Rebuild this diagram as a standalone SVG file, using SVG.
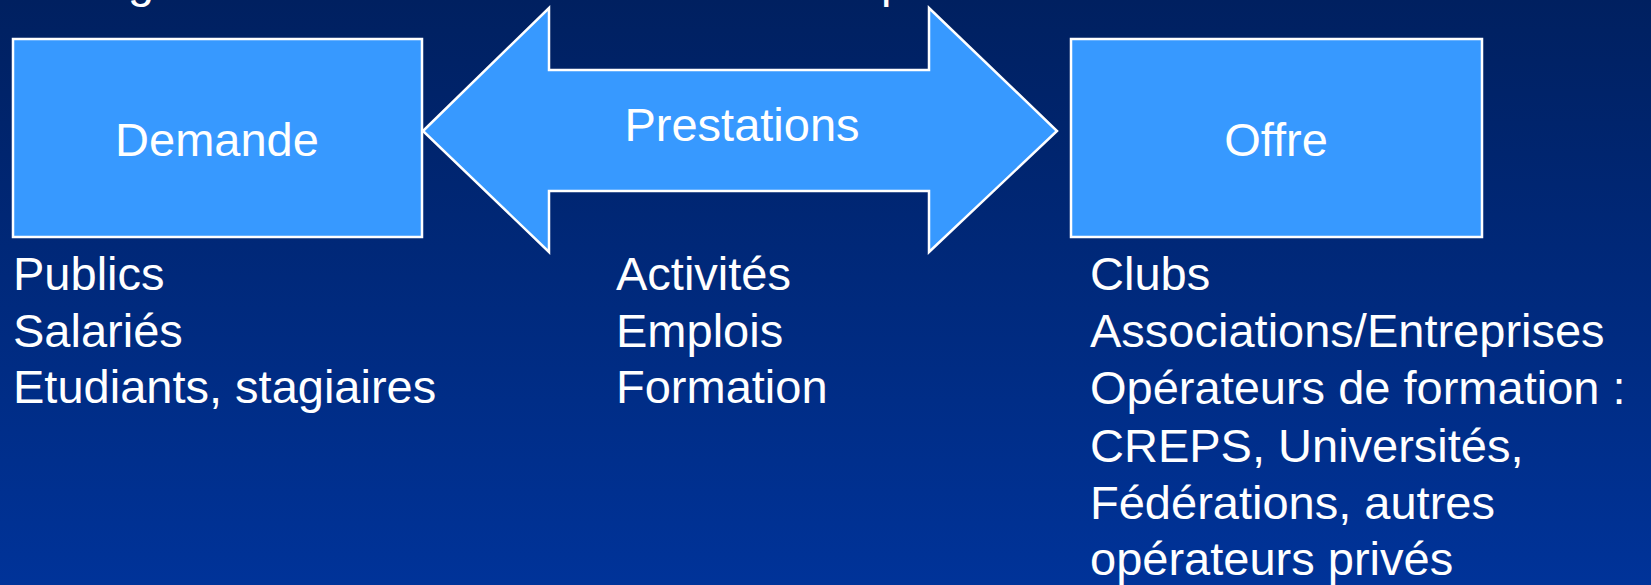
<svg xmlns="http://www.w3.org/2000/svg" width="1651" height="585" viewBox="0 0 1651 585">
<defs>
<linearGradient id="bg" x1="0" y1="0" x2="0" y2="1">
<stop offset="0" stop-color="#002060"/>
<stop offset="1" stop-color="#003399"/>
</linearGradient>
<style>
.shape{fill:#3799FF;stroke:#FFFFFF;stroke-width:2.5}
.t{font-family:"Liberation Sans",Arial,sans-serif;font-size:47px;fill:#FFFFFF}
.c{text-anchor:middle}
</style>
</defs>
<rect x="0" y="0" width="1651" height="585" fill="url(#bg)"/>
<g id="title-fragments">
<text class="t" x="128" y="-3">g</text>
<text class="t" x="881" y="-3">p</text>
</g>
<g id="connectors">
<g id="prestations">
<polygon class="shape" points="423,131 549,8 549,70 929,70 929,8 1057,131 929,252 929,191 549,191 549,252"/>
<text class="t c" x="742" y="141">Prestations</text>
</g>
</g>
<g id="demande">
<rect class="shape" x="13" y="39" width="409" height="198"/>
<text class="t c" x="217" y="156">Demande</text>
</g>
<g id="offre">
<rect class="shape" x="1071" y="39" width="411" height="198"/>
<text class="t c" x="1276" y="156">Offre</text>
</g>
<g id="demande-list">
<text class="t" x="13" y="290">Publics</text>
<text class="t" x="13" y="347">Salariés</text>
<text class="t" x="13" y="403">Etudiants, stagiaires</text>
</g>
<g id="prestations-list">
<text class="t" x="616" y="290">Activités</text>
<text class="t" x="616" y="347">Emplois</text>
<text class="t" x="616" y="403">Formation</text>
</g>
<g id="offre-list">
<text class="t" x="1090" y="290">Clubs</text>
<text class="t" x="1090" y="347">Associations/Entreprises</text>
<text class="t" x="1090" y="404">Opérateurs de formation :</text>
<text class="t" x="1090" y="462">CREPS, Universités,</text>
<text class="t" x="1090" y="519">Fédérations, autres</text>
<text class="t" x="1090" y="575">opérateurs privés</text>
</g>
</svg>
